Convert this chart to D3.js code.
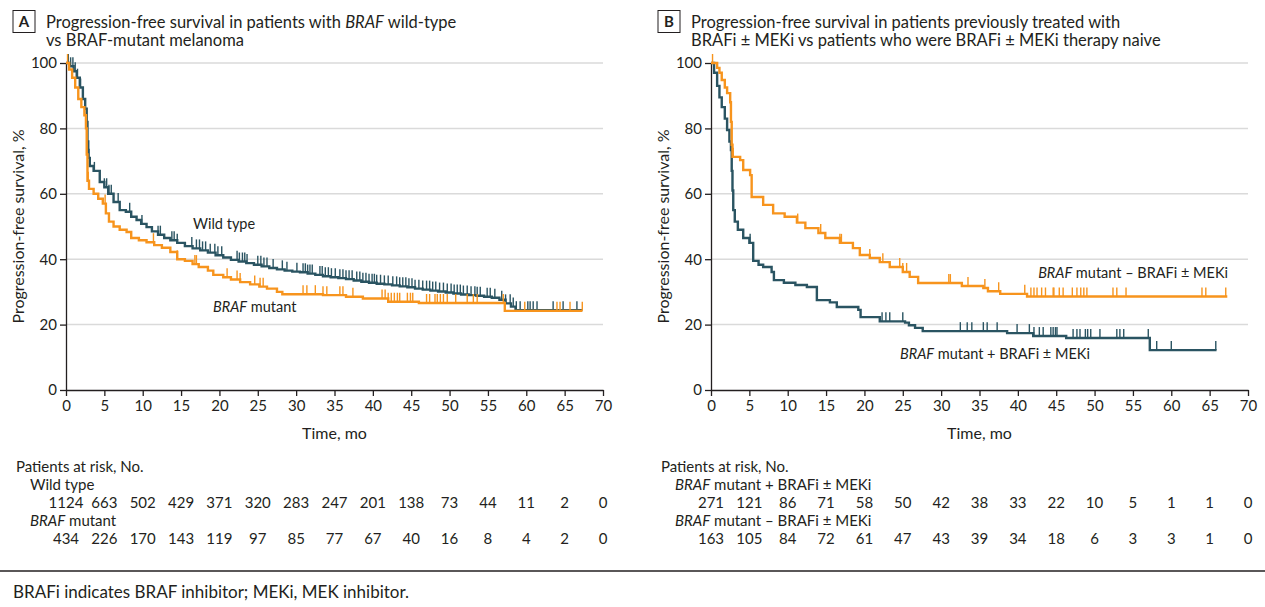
<!DOCTYPE html>
<html><head><meta charset="utf-8">
<script src="https://cdn.jsdelivr.net/npm/d3@7"></script>
<style>
body{margin:0;background:#fff}
svg{display:block}
text{font-family:Lato,"Noto Sans",sans-serif;fill:#231f20}
</style>
</head><body>
<svg id="chart" width="1265" height="607"></svg>
<script>
// ---------------- DATA ----------------
const monthTicks = [0,5,10,15,20,25,30,35,40,45,50,55,60,65,70];
const pctTicks = [0,20,40,60,80,100];

// Panel A – wild type
const wildTime = [0,0.5,1.0,1.4,1.8,2.2,2.5,2.7,2.8,2.9,3.1,3.6,4.4,5.0,5.5,6.2,7.0,7.8,8.5,9.2,9.8,10.5,11.2,12.0,12.8,13.6,14.5,15.5,16.5,17.5,18.5,19.5,20.5,21.5,22.5,23.5,24.5,25.5,26.5,27.5,28.5,29.5,30.5,31.5,32.5,33.5,34.5,35.5,36.5,37.5,38.5,39.5,40.5,41.5,42.5,43.5,44.5,45.5,46.5,47.5,48.5,49.5,50.5,51.5,52.5,53.5,54.5,55.5,56.5,57.3,58.0,58.6,67.3];
const wildSurv = [100,99,97.5,95.5,92.5,89,86,82,76,71,68.5,67,63.6,62,60,57.5,55,54.5,53,52,50.8,49.8,48.5,47.5,46.5,45.8,45,44,43.3,42.7,42,41.2,40.5,39.8,39.3,38.8,38.3,37.8,37.3,36.9,36.5,36.2,36.0,35.6,35.2,34.8,34.5,34.2,33.9,33.5,33.1,32.8,32.5,32.3,32.0,31.7,31.4,31.0,30.7,30.4,30.1,29.8,29.5,29.2,29.0,28.8,28.5,28.2,27.6,26.5,25.5,24.4,24.4];
const wildCensor = [0.3,0.6,0.9,1.2,1.5,1.8,1.9,2.9,3.0,3.1,3.7,5.0,5.3,5.6,5.9,6.8,8.3,9.9,12.0,12.3,13.8,14.1,14.5,16.4,17.0,17.4,17.8,18.2,18.8,19.4,19.8,20.3,22.3,22.6,23.0,23.3,23.6,25.0,25.4,25.8,26.2,27.0,28.2,28.8,30.1,30.9,31.2,31.5,31.8,32.1,33.1,33.4,33.8,34.2,34.6,35.1,35.7,36.1,36.5,36.9,37.3,37.9,38.3,38.7,39.1,39.5,39.9,40.2,40.5,41.0,41.5,42.0,42.6,43.1,43.5,43.9,44.3,44.7,45.1,45.5,46.0,46.5,47.0,47.4,47.8,48.2,48.7,49.2,49.7,50.2,50.6,51.0,51.4,51.8,52.3,52.8,53.3,53.6,54.0,54.9,55.3,55.9,56.8,57.3,57.9,58.3,58.7,59.2,60.2,60.5,60.9,61.4,63.5,64.8,66.6];

// Panel A – BRAF mutant
const mutTime = [0,0.4,0.8,1.2,1.6,2.0,2.4,2.6,2.7,2.8,3.0,3.6,4.2,4.8,5.2,5.6,6.2,7.0,7.9,8.5,9.5,10.5,11.5,12.5,13.6,14.5,15.5,16.5,17.3,18.5,19.2,20.5,21.5,22.7,24.0,25.2,26.2,27.5,28.2,33.5,36.5,38.7,42.0,46.0,57.2,67.3];
const mutSurv = [100,98,95.5,92.5,89,86.5,84,80,72,64,61.5,60,58.5,57,54,51.5,50,49,48.3,46.5,45.8,45.2,44.3,43.5,42.2,40,39.5,38.5,37.6,36.5,35.2,34.5,33.8,33,32.3,31.6,31,30,29.3,29.0,28.5,28.0,27.0,26.6,24.2,24.2];
const mutCensor = [0.2,2.9,5.1,11.4,14.5,16.8,17.0,21.0,22.3,22.7,24.6,25.3,25.7,30.9,31.4,32.5,33.5,34.0,35.7,36.1,37.4,41.2,41.6,42.0,42.4,42.8,43.2,43.5,44.5,44.9,45.2,47.0,47.4,48.1,48.4,48.8,49.2,49.7,50.8,52.3,53.1,53.6,57.0,59.8,64.0,64.4,65.7,67.3];

// Panel B – BRAF mutant + BRAFi ± MEKi
const prevTime = [0,0.4,0.8,1.1,1.4,1.8,2.1,2.4,2.6,2.7,2.8,2.9,3.1,3.5,4.2,5.0,5.5,6.2,6.8,7.9,8.2,9.5,11.0,12.5,13.8,15.5,16.4,19.2,19.5,22.0,25.3,25.8,26.6,27.6,38.6,42.0,46.3,57.2,65.9];
const prevSurv = [100,97,93,89.5,86.5,83,79.5,76,73.4,67,61,55,51.5,49,46.5,45,39.5,38.3,37.6,36.1,33.6,32.8,32.1,31.5,27.5,26.8,25.4,24.5,22.3,21.0,20.6,19.8,19.0,18.0,17.4,16.5,15.9,12.2,12.2];
const prevCensor = [5.1,22.3,22.8,23.3,25.0,32.5,33.4,34.0,35.5,36.0,37.3,39.9,41.5,42.1,42.8,43.3,44.3,44.6,44.9,45.1,47.2,47.7,48.1,48.8,49.1,49.5,50.7,52.9,53.3,53.8,57.0,58.1,60.0,65.8];

// Panel B – BRAF mutant – BRAFi ± MEKi (naive)
const naiveTime = [0,0.8,1.1,1.4,1.8,2.1,2.5,2.6,2.7,2.8,3.8,4.2,5.1,5.3,6.8,8.1,9.6,11.2,12.3,14.0,14.9,16.8,18.5,19.4,20.7,22.0,23.3,25.0,25.9,27.0,32.7,35.5,36.1,37.7,41.2,67.3];
const naiveSurv = [100,98.5,97,94.8,92.5,90.8,88,82,75,71.3,70.3,67.3,65.7,59,56.6,54,53,51.2,49.5,48,46.5,45,43.4,41.3,40.4,39.1,37.6,36.1,34.6,32.7,31.8,31.2,30.2,29.4,28.6,28.6];
const naiveCensor = [0.2,2.9,11.3,14.3,16.8,17.0,20.7,22.4,24.6,25.0,25.5,31.0,31.2,33.5,35.7,37.5,40.9,41.7,42.1,42.5,43.1,43.6,44.6,44.7,45.4,45.9,47.1,47.7,48.2,48.6,49.0,52.4,52.9,54.1,64.0,64.5,67.1];

// Patients at risk
const riskWild = [1124,663,502,429,371,320,283,247,201,138,73,44,11,2,0];
const riskMut = [434,226,170,143,119,97,85,77,67,40,16,8,4,2,0];
const riskPrev = [271,121,86,71,58,50,42,38,33,22,10,5,1,1,0];
const riskNaive = [163,105,84,72,61,47,43,39,34,18,6,3,3,1,0];

// ---------------- DRAW ----------------
const TEAL = "#2a5462", ORANGE = "#f7941d", INK = "#231f20";
const svg = d3.select("#chart");
svg.append("rect").attr("width",1265).attr("height",607).attr("fill","#fff");

function title(x0, boxX, letter, lines){
  svg.append("rect").attr("x",boxX).attr("y",10.5).attr("width",22).attr("height",22)
    .attr("fill","none").attr("stroke",INK).attr("stroke-width",1);
  svg.append("text").attr("x",boxX+11).attr("y",27).attr("text-anchor","middle")
    .attr("font-weight","bold").attr("font-size",15).text(letter);
  lines.forEach((ln,i)=>{
    const t = svg.append("text").attr("x",x0).attr("y",28+i*18).attr("font-size",16.5);
    ln.forEach(part=>{
      t.append("tspan").attr("font-style",part.i?"italic":null).text(part.t);
    });
  });
}

function panel(cfg){
  const x = d3.scaleLinear().domain([0,70]).range([cfg.x0,cfg.x1]);
  const y = d3.scaleLinear().domain([0,100]).range([390,63]);
  const g = svg.append("g");

  g.selectAll("line.grid").data(pctTicks.filter(d=>d>0)).join("line")
    .attr("x1",x(0)).attr("x2",x(70)).attr("y1",d=>y(d)).attr("y2",d=>y(d))
    .attr("stroke","#dadada").attr("stroke-width",1.5);

  const ya = g.append("g").attr("transform",`translate(${x(0)},0)`)
    .call(d3.axisLeft(y).tickValues(pctTicks).tickSize(6).tickSizeOuter(0).tickPadding(3));
  const xa = g.append("g").attr("transform",`translate(0,${y(0)})`)
    .call(d3.axisBottom(x).tickValues(monthTicks).tickSize(6).tickSizeOuter(0).tickPadding(4));
  [ya,xa].forEach(a=>{
    a.selectAll("path,line").attr("stroke",INK).attr("stroke-width",1.3);
    a.selectAll("text").attr("font-size",15).attr("fill",INK).style("font-family","Lato");
  });

  g.append("text").attr("x",(x(0)+x(70))/2).attr("y",439).attr("text-anchor","middle")
    .attr("font-size",16).text("Time, mo");
  g.append("text").attr("transform",`translate(${x(0)-42},${y(50)}) rotate(-90)`)
    .attr("text-anchor","middle").attr("font-size",16).text("Progression-free survival, %");

  const line = d3.line().curve(d3.curveStepAfter).x(d=>x(d[0])).y(d=>y(d[1]));
  cfg.series.forEach(s=>{
    const pts = s.time.map((t,i)=>[t,s.surv[i]]);
    g.append("path").datum(pts).attr("d",line).attr("fill","none")
      .attr("stroke",s.color).attr("stroke-width",2.4).attr("stroke-linejoin","miter");
    const bis = d3.bisector(d=>d).right;
    g.selectAll(null).data(s.censor).join("line")
      .attr("x1",d=>x(d)).attr("x2",d=>x(d))
      .attr("y1",d=>y(s.surv[Math.max(0,bis(s.time,d)-1)]))
      .attr("y2",d=>y(s.surv[Math.max(0,bis(s.time,d)-1)])-9)
      .attr("stroke",s.color).attr("stroke-width",1.4);
  });

  cfg.labels.forEach(l=>{
    const t = g.append("text").attr("x",l.x).attr("y",l.y).attr("font-size",14.5)
      .attr("text-anchor",l.anchor||"start");
    l.parts.forEach(p=>t.append("tspan").attr("font-style",p.i?"italic":null).text(p.t));
  });

  // risk table
  const rt = svg.append("g").attr("font-size",15);
  rt.append("text").attr("x",cfg.riskX).attr("y",472).text("Patients at risk, No.");
  cfg.risk.forEach((r,ri)=>{
    const lab = rt.append("text").attr("x",cfg.riskX+14).attr("y",490+ri*36);
    r.label.forEach(p=>lab.append("tspan").attr("font-style",p.i?"italic":null).text(p.t));
    rt.selectAll(null).data(r.values).join("text")
      .attr("x",(d,i)=>x(monthTicks[i])).attr("y",508+ri*36)
      .attr("text-anchor","middle").text(d=>d);
  });
}

title(46,13,"A",[[{t:"Progression-free survival in patients with "},{t:"BRAF",i:true},{t:" wild-type"}],[{t:"vs BRAF-mutant melanoma"}]]);
title(691,658,"B",[[{t:"Progression-free survival in patients previously treated with"}],[{t:"BRAFi ± MEKi vs patients who were BRAFi ± MEKi therapy naive"}]]);

panel({x0:66,x1:603,
  series:[{time:wildTime,surv:wildSurv,censor:wildCensor,color:TEAL},
          {time:mutTime,surv:mutSurv,censor:mutCensor,color:ORANGE}],
  labels:[{x:193,y:229,parts:[{t:"Wild type"}]},
          {x:213,y:312,parts:[{t:"BRAF",i:true},{t:" mutant"}]}],
  riskX:16,
  risk:[{label:[{t:"Wild type"}],values:riskWild},
        {label:[{t:"BRAF",i:true},{t:" mutant"}],values:riskMut}]
});
panel({x0:711,x1:1248,
  series:[{time:prevTime,surv:prevSurv,censor:prevCensor,color:TEAL},
          {time:naiveTime,surv:naiveSurv,censor:naiveCensor,color:ORANGE}],
  labels:[{x:1228,y:278,anchor:"end",parts:[{t:"BRAF",i:true},{t:" mutant – BRAFi ± MEKi"}]},
          {x:900,y:359,parts:[{t:"BRAF",i:true},{t:" mutant + BRAFi ± MEKi"}]}],
  riskX:661,
  risk:[{label:[{t:"BRAF",i:true},{t:" mutant + BRAFi ± MEKi"}],values:riskPrev},
        {label:[{t:"BRAF",i:true},{t:" mutant – BRAFi ± MEKi"}],values:riskNaive}]
});

svg.append("line").attr("x1",0).attr("x2",1265).attr("y1",571).attr("y2",571)
  .attr("stroke",INK).attr("stroke-width",1.3);
svg.append("text").attr("x",13).attr("y",598).attr("font-size",17)
  .text("BRAFi indicates BRAF inhibitor; MEKi, MEK inhibitor.");
</script>
</body></html>
